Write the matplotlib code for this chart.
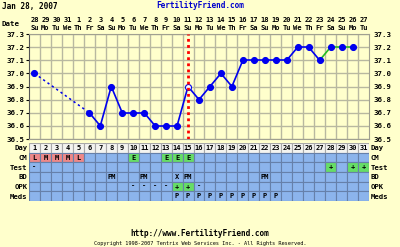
import matplotlib.pyplot as plt
from matplotlib.patches import Rectangle
import numpy as np

# ---- chart data ----
dates = [28, 29, 30, 31] + list(range(1, 28))
weekdays = (['Su', 'Mo', 'Tu', 'We', 'Th', 'Fr', 'Sa'] * 5)[:31]
temps = [37.0, None, None, None, None, 36.7, 36.6, 36.9, 36.7, 36.7,
         36.7, 36.6, 36.6, 36.6, 36.9, 36.8, 36.9, 37.0, 36.9, 37.1,
         37.1, 37.1, 37.1, 37.1, 37.2, 37.2, 37.1, 37.2, 37.2, 37.2, None]
open_days = [15]          # hollow marker
ovulation_day = 15        # red dotted line
green_from = 27           # green line from this day on
cm = {1: 'L', 2: 'M', 3: 'M', 4: 'M', 5: 'L', 10: 'E', 13: 'E', 14: 'E', 15: 'E'}
test = {1: '-', 28: '+', 30: '+', 31: '+'}
bd = {8: 'PM', 11: 'PM', 14: 'X', 15: 'PM', 22: 'PM'}
opk = {10: '-', 11: '-', 12: '-', 13: '-', 14: '+', 15: '+', 16: '-'}
meds = {d: 'P' for d in range(14, 24)}
rows = ['Day', 'CM', 'Test', 'BD', 'OPK', 'Meds']

BG = '#FFFFCC'
BLUE = '#8CB4EC'
PINK = '#EE8888'
GREEN = '#66DD66'
FONT = 'DejaVu Sans Mono'
fs = 5.3

W, H = 400, 247
def box(x0, y0, x1, y1):
    return [x0 / W, 1 - y1 / H, (x1 - x0) / W, (y1 - y0) / H]

fig = plt.figure(figsize=(4, 2.47), dpi=100, facecolor=BG)
days = np.arange(1, 32)

# ---- temperature chart ----
ax = fig.add_axes(box(29, 34, 369, 139))
ax.set_facecolor(BG)
ax.set_xlim(0.5, 31.5)
ax.set_ylim(36.5, 37.3)
yt = np.round(np.arange(36.5, 37.31, 0.1), 1)
ax.set_yticks(yt)
ax.set_yticklabels([f'{v:.1f}' for v in yt], fontfamily=FONT, fontweight='bold', fontsize=fs)
ax.tick_params(axis='y', left=True, right=False, labelright=True, length=2, pad=1)
ax.set_xticks(days)
ax.set_xticklabels([f'{d}\n{w}' for d, w in zip(dates, weekdays)],
                   fontfamily=FONT, fontweight='bold', fontsize=5, linespacing=1.45)
ax.xaxis.tick_top()
ax.tick_params(axis='x', length=0, pad=2)
ax.set_xticks(days[:-1] + 0.5, minor=True)
ax.tick_params(which='minor', length=0)
ax.grid(which='minor', axis='x', color='#B8B8A0', lw=1)
ax.grid(which='major', axis='y', color='#B8B8A0', lw=1)
ax.set_axisbelow(True)
for s in ax.spines.values():
    s.set_color('#A0A090')
ax.spines['left'].set_color('#555555')

pts = [(d, t) for d, t in zip(days, temps) if t is not None]
for (d0, t0), (d1, t1) in zip(pts[:-1], pts[1:]):
    col = '#22BB22' if d0 >= green_from else '#0000EE'
    if d1 - d0 > 1:
        ax.plot([d0, d1], [t0, t1], color=col, lw=1.1, ls=(0, (1.5, 2)), zorder=3)
    else:
        ax.plot([d0, d1], [t0, t1], color=col, lw=1.2, zorder=3)
for d, t in pts:
    fc = 'white' if d in open_days else '#0000EE'
    ax.plot(d, t, 'o', ms=4.3, mfc=fc, mec='#0000EE', mew=0.8, zorder=4)
ax.axvline(ovulation_day, color='#FF0000', lw=2, ls=(0, (1, 1.2)), zorder=5)

fig.text(2 / W, 1 - 24 / H, 'Date', fontfamily=FONT, fontweight='bold', fontsize=fs, va='center')
fig.text(2 / W, 1 - 6 / H, 'Jan 28, 2007', fontfamily=FONT, fontweight='bold', fontsize=5.6, va='center')
fig.text(200 / W, 1 - 6 / H, 'FertilityFriend.com', fontfamily=FONT, fontweight='bold',
         fontsize=5.6, va='center', ha='center', color='#0000CC')

# ---- data table ----
tb = fig.add_axes(box(29, 143, 369, 201))
tb.set_xlim(0.5, 31.5)
tb.set_ylim(len(rows), 0)
tb.axis('off')
cols = {'L': PINK, 'M': PINK, 'E': GREEN, '+': GREEN}
for d in days:
    tb.add_patch(Rectangle((d - 0.5, 0), 1, 1, fc='#F4F4F0', ec='#A8A8A8', lw=0.8))
    tb.text(d, 0.5, str(d), ha='center', va='center', fontfamily=FONT,
            fontweight='bold', fontsize=5)
    for r, vals in enumerate([cm, test, bd, opk, meds], start=1):
        v = vals.get(d, '')
        tb.add_patch(Rectangle((d - 0.5, r), 1, 1, fc=cols.get(v, BLUE), ec='#6680AA', lw=0.8))
        if v:
            tb.text(d, r + 0.5, v, ha='center', va='center', fontfamily=FONT,
                    fontweight='bold', fontsize=5)
for r, name in enumerate(rows):
    tb.text(0.35, r + 0.55, name, ha='right', va='center', fontfamily=FONT, fontweight='bold', fontsize=5.2)
    tb.text(31.65, r + 0.55, name, ha='left', va='center', fontfamily=FONT, fontweight='bold', fontsize=5.2)

fig.text(200 / W, 1 - 234 / H, 'http://www.FertilityFriend.com', fontfamily=FONT,
         fontweight='bold', fontsize=5.6, ha='center', va='center')
fig.text(200 / W, 1 - 243 / H, 'Copyright 1998-2007 Tentrix Web Services Inc. - All Rights Reserved.',
         fontfamily=FONT, fontsize=3.8, ha='center', va='center')

fig.savefig('out.png', dpi=100, facecolor=BG)
